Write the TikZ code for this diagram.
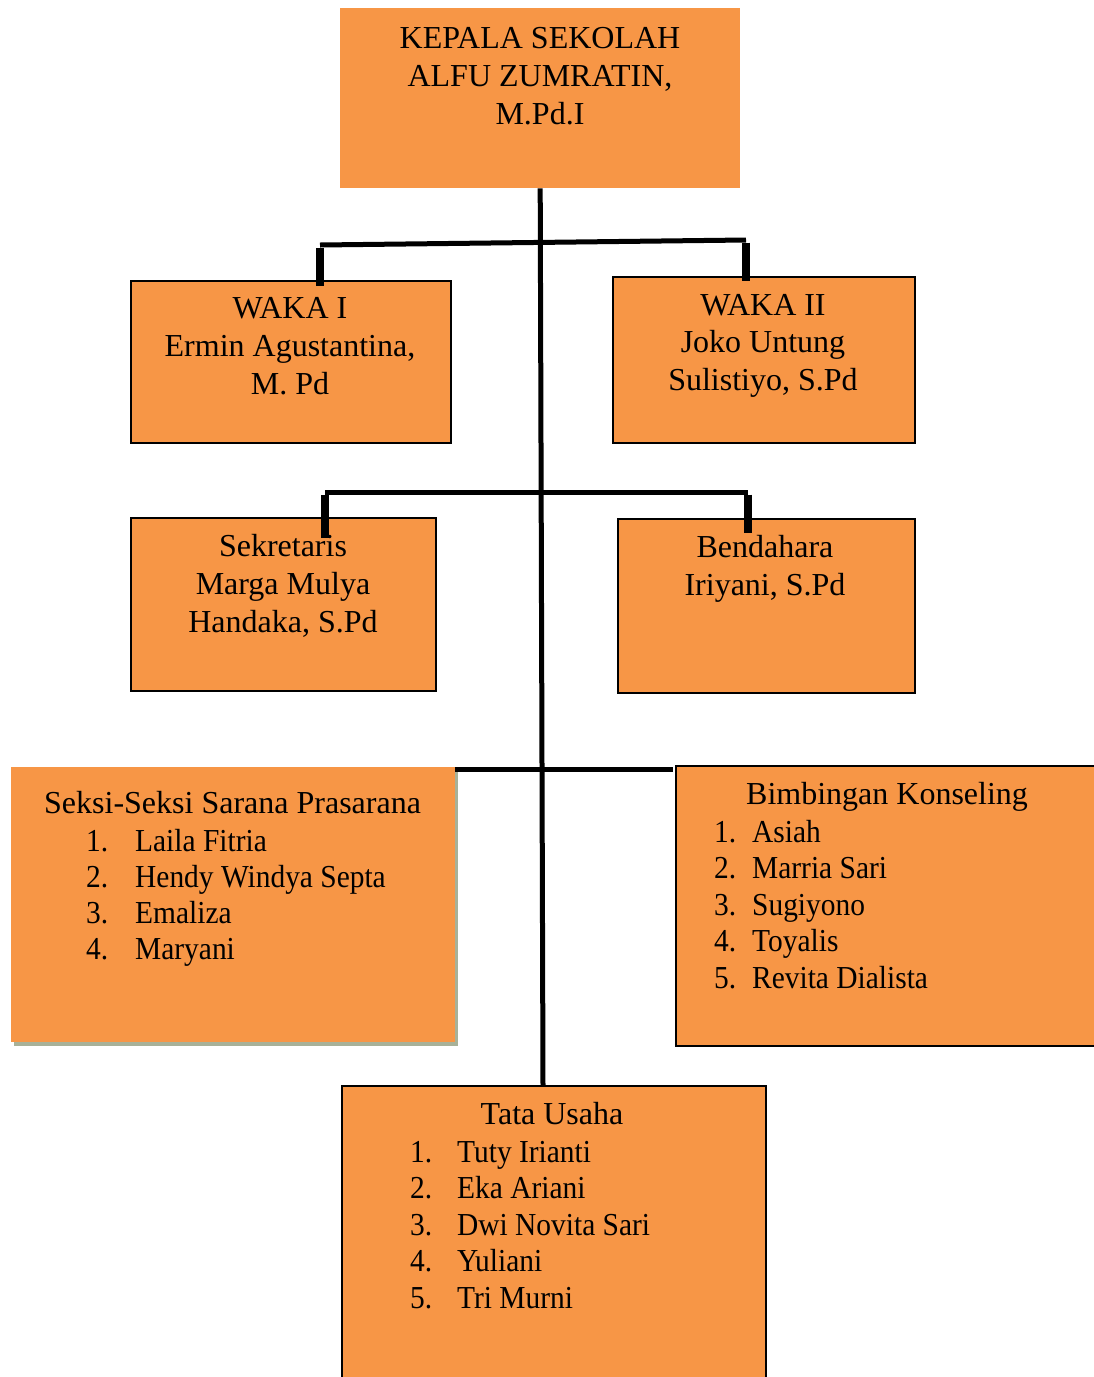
\documentclass[tikz,border=0pt]{standalone}
\usepackage{fontspec}
\setmainfont{Liberation Serif}
\definecolor{org}{HTML}{F79646}
\definecolor{shd}{HTML}{A8B198}
\tikzset{
  box/.style={draw=black, line width=1.5pt, fill=org, inner sep=0pt, anchor=north west},
  plainbox/.style={fill=org, inner sep=0pt, anchor=north west},
  lbl/.style={inner sep=0pt, anchor=base, font=\fontsize{32}{38}\selectfont},
  lbll/.style={inner sep=0pt, anchor=base west, font=\fontsize{32}{38}\selectfont},
  item/.style={lbll, xscale=0.92},
  conn/.style={line width=5pt, draw=black},
  drop/.style={line width=8pt, draw=black}
}
\begin{document}
\begin{tikzpicture}[x=1pt,y=-1pt]
\useasboundingbox (0,0) rectangle (1094,1377);
\clip (0,0) rectangle (1094,1377);
\fill[white] (0,0) rectangle (1094,1377);

% boxes
\node[plainbox, minimum width=400, minimum height=180] (kepala) at (340,8) {};
\node[box, minimum width=320, minimum height=162] (waka1) at (130,280) {};
\node[box, minimum width=302, minimum height=166] (waka2) at (612,276) {};
\node[box, minimum width=305, minimum height=173] (sek) at (130,517) {};
\node[box, minimum width=297, minimum height=174] (bend) at (617,518) {};
\fill[shd] (14,770) rectangle (458,1046);
\node[plainbox, minimum width=444, minimum height=275] (seksi) at (11,767) {};
\node[box, minimum width=440, minimum height=280] (bk) at (675,765) {};
\node[box, minimum width=424, minimum height=320] (tu) at (341,1085) {};

% connectors
\coordinate (tb) at (543,1085);
\coordinate (h1l) at (320,245);
\coordinate (h1r) at (746,240);
\coordinate (h2l) at (325,492);
\coordinate (h2r) at (748,492);
\coordinate (h3l) at (455,769);
\coordinate (h3r) at (673,769);
\coordinate (d1) at (320,286);
\coordinate (d2) at (746,281);
\coordinate (d3) at (325,538);
\coordinate (d4) at (748,533);
\draw[conn] (kepala.south) -- (tb);
\draw[conn] (h1l) -- (h1r);
\draw[conn] (h2l) -- (h2r);
\draw[conn] (h3l) -- (h3r);
\draw[drop] ([yshift=-2.5]h1l) -- (d1);
\draw[drop] ([yshift=-2.5]h1r) -- (d2);
\draw[drop] ([yshift=-2.5]h2l) -- (d3);
\draw[drop] ([yshift=-2.5]h2r) -- (d4);

% texts
\node[lbl] (k1) at (540,48) {KEPALA SEKOLAH};
\node[lbl] (k2) at (540,86) {ALFU ZUMRATIN,};
\node[lbl] (k3) at (540,124) {M.Pd.I};

\node[lbl] (w11) at (290,318) {WAKA I};
\node[lbl] (w12) at (290,356) {Ermin Agustantina,};
\node[lbl] (w13) at (290,394) {M. Pd};

\node[lbl] (w21) at (763,315) {WAKA II};
\node[lbl] (w22) at (763,352) {Joko Untung};
\node[lbl] (w23) at (763,390) {Sulistiyo, S.Pd};

\node[lbl] (s1) at (283,556) {Sekretaris};
\node[lbl] (s2) at (283,594) {Marga Mulya};
\node[lbl] (s3) at (283,632) {Handaka, S.Pd};

\node[lbl] (b1) at (765,557) {Bendahara};
\node[lbl] (b2) at (765,595) {Iriyani, S.Pd};

\node[lbll] (sx) at (44,813) {Seksi-Seksi Sarana Prasarana};
\foreach \t [count=\i] in {Laila Fitria, Hendy Windya Septa, Emaliza, Maryani}{
  \node[item] (sxn\i) at (86,{851+36.3*(\i-1)}) {\i.};
  \node[item] (sxt\i) at (135,{851+36.3*(\i-1)}) {\t};
}

\node[lbll] (bkt) at (746,804) {Bimbingan Konseling};
\foreach \t [count=\i] in {Asiah, Marria Sari, Sugiyono, Toyalis, Revita Dialista}{
  \node[item] (bkn\i) at (714,{842+36.5*(\i-1)}) {\i.};
  \node[item] (bkx\i) at (752,{842+36.5*(\i-1)}) {\t};
}

\node[lbl] (tut) at (552,1124) {Tata Usaha};
\foreach \t [count=\i] in {Tuty Irianti, Eka Ariani, Dwi Novita Sari, Yuliani, Tri Murni}{
  \node[item] (tun\i) at (410,{1162+36.5*(\i-1)}) {\i.};
  \node[item] (tux\i) at (457,{1162+36.5*(\i-1)}) {\t};
}
\end{tikzpicture}
\end{document}
